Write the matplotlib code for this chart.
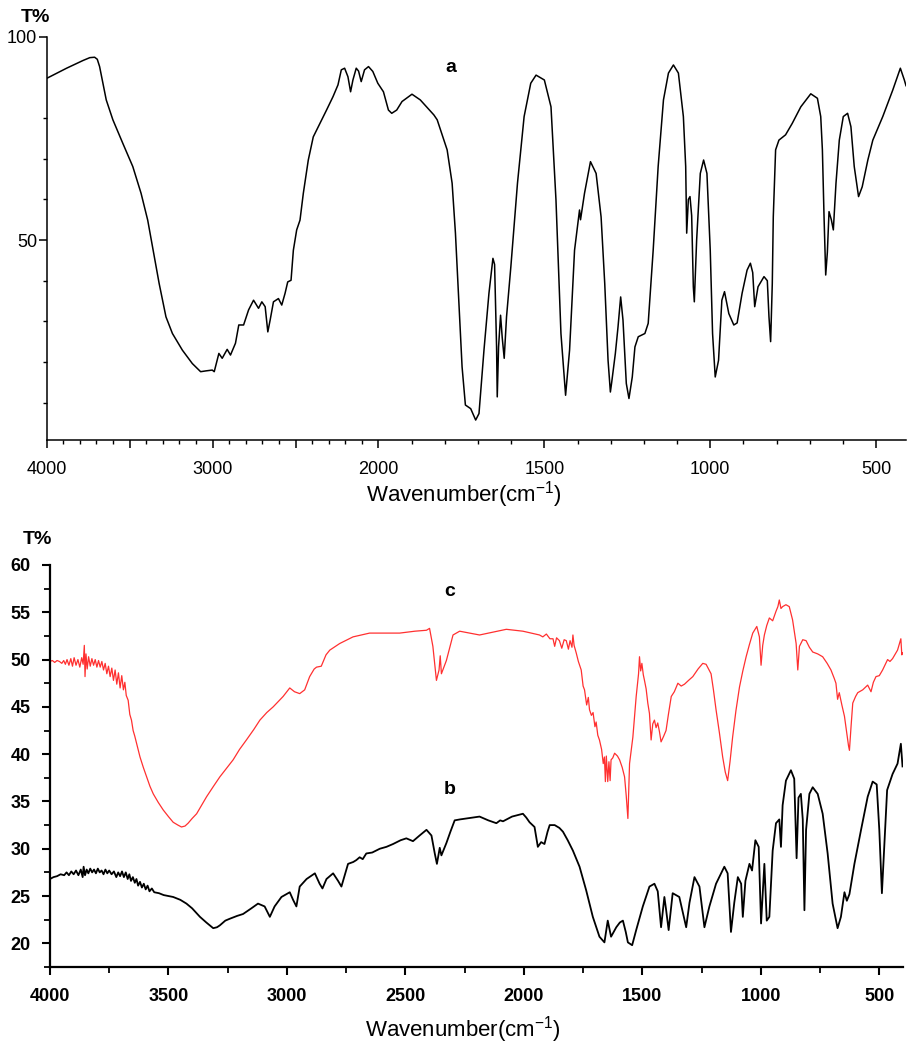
import numpy as np
import matplotlib
matplotlib.use("Agg")
import matplotlib.pyplot as plt
from matplotlib.ticker import FixedLocator

plt.rcParams['font.family'] = ['Liberation Sans', 'DejaVu Sans']

# spectrum a (top panel): wavenumber, T%
spec_a = np.array([
    (4000, 89.8), (3880, 92.3), (3781, 94.2), (3740, 94.9), (3711, 95.0), (3695, 94.5),
    (3681, 92.7), (3641, 84.5), (3601, 79.6), (3541, 73.8), (3481, 68.1), (3431, 61.5),
    (3391, 54.9), (3362, 48.4), (3322, 39.3), (3281, 31.1), (3242, 27.0), (3182, 22.9),
    (3122, 19.6), (3072, 17.6), (3040, 17.8), (3002, 18.0), (2990, 17.6), (2962, 22.1),
    (2942, 20.9), (2912, 23.1), (2892, 21.7), (2862, 24.6), (2842, 29.1), (2813, 29.1),
    (2783, 32.8), (2753, 35.2), (2723, 33.2), (2703, 34.8), (2683, 33.6), (2667, 27.4),
    (2653, 30.3), (2633, 34.8), (2603, 35.6), (2583, 34.0), (2563, 36.9), (2547, 39.7),
    (2527, 40.1), (2513, 47.5), (2493, 52.5), (2473, 54.9), (2453, 61.5), (2423, 69.7),
    (2393, 75.4), (2353, 78.7), (2313, 82.0), (2274, 85.3), (2244, 88.2), (2224, 91.9),
    (2204, 92.3), (2184, 90.2), (2168, 86.5), (2154, 89.4), (2134, 92.3), (2120, 91.6),
    (2104, 89.0), (2084, 91.9), (2060, 92.7), (2034, 91.5), (2004, 88.6), (1985, 86.5),
    (1970, 82.0), (1960, 81.2), (1945, 82.0), (1929, 84.1), (1899, 85.9), (1874, 84.5),
    (1833, 80.8), (1823, 79.6), (1793, 72.2), (1778, 64.0), (1768, 51.7), (1758, 35.2),
    (1748, 18.8), (1738, 9.4), (1722, 8.5), (1707, 5.7), (1697, 7.3), (1682, 22.9),
    (1667, 36.9), (1655, 45.5), (1650, 44.0), (1644, 23.7), (1642, 11.4), (1638, 23.7),
    (1632, 31.5), (1627, 26.0), (1621, 20.9), (1614, 31.1), (1601, 43.4), (1581, 64.0),
    (1561, 80.4), (1541, 88.6), (1525, 90.6), (1500, 89.4), (1480, 82.8), (1465, 59.9),
    (1450, 27.0), (1436, 11.8), (1424, 22.9), (1409, 47.5), (1394, 57.4), (1391, 55.0),
    (1379, 61.5), (1361, 69.3), (1344, 66.4), (1329, 55.7), (1318, 39.3), (1308, 20.4),
    (1301, 12.6), (1297, 15.0), (1286, 22.1), (1278, 28.6), (1270, 36.0), (1263, 30.3),
    (1253, 14.7), (1245, 11.0), (1235, 16.3), (1227, 23.7), (1217, 26.2), (1197, 27.0),
    (1187, 29.5), (1172, 47.5), (1157, 68.1), (1141, 84.5), (1126, 91.1), (1111, 93.1),
    (1096, 91.1), (1081, 80.4), (1074, 68.1), (1071, 51.7), (1066, 60.0), (1061, 60.7),
    (1056, 56.0), (1051, 38.5), (1048, 34.8), (1041, 50.0), (1030, 66.4), (1020, 69.7),
    (1010, 66.4), (1000, 47.5), (993, 27.0), (985, 16.3), (975, 20.4), (965, 35.2),
    (957, 37.3), (944, 31.9), (929, 29.1), (919, 29.6), (904, 36.9), (889, 42.6),
    (879, 44.3), (872, 42.0), (866, 33.6), (856, 38.5), (838, 41.0), (828, 40.0),
    (823, 31.1), (818, 25.0), (813, 39.3), (810, 55.7), (803, 72.2), (793, 74.6),
    (773, 75.9), (753, 78.7), (727, 82.8), (697, 86.0), (677, 84.9), (667, 80.4),
    (662, 72.2), (657, 55.7), (652, 41.4), (647, 47.0), (642, 57.0), (635, 55.0),
    (629, 52.5), (621, 64.0), (611, 74.6), (599, 80.4), (586, 81.2), (576, 77.9),
    (566, 68.1), (553, 60.7), (542, 63.1), (525, 69.7), (510, 74.6), (480, 80.4),
    (450, 86.9), (427, 92.3), (415, 89.4), (410, 88.0),
])

# spectrum c (bottom panel, red)
spec_c = np.array([
    (4000, 49.8), (3990, 49.9), (3980, 49.7), (3970, 49.9), (3960, 49.8), (3950, 49.6),
    (3942, 49.9), (3935, 49.5), (3928, 50.0), (3920, 49.4), (3912, 50.1), (3905, 49.3),
    (3898, 50.2), (3890, 49.4), (3882, 50.0), (3874, 49.2), (3866, 50.2), (3860, 49.5),
    (3855, 51.5), (3852, 48.2), (3848, 50.6), (3843, 49.0), (3837, 50.3), (3830, 49.3),
    (3823, 50.1), (3816, 49.4), (3809, 50.0), (3802, 49.2), (3795, 49.9), (3788, 49.2),
    (3781, 49.8), (3774, 48.9), (3767, 49.6), (3760, 48.5), (3753, 49.3), (3746, 48.2),
    (3739, 49.1), (3732, 47.8), (3725, 48.9), (3718, 47.4), (3711, 48.6), (3704, 47.0),
    (3697, 48.3), (3690, 46.8), (3684, 47.6), (3678, 46.2), (3670, 45.7), (3663, 44.2),
    (3656, 43.6), (3649, 42.5), (3642, 41.9), (3635, 41.2), (3620, 39.7), (3606, 38.6),
    (3592, 37.6), (3578, 36.6), (3564, 35.8), (3543, 34.9), (3522, 34.1), (3500, 33.4),
    (3480, 32.8), (3460, 32.5), (3445, 32.3), (3430, 32.4), (3417, 32.7), (3400, 33.2),
    (3381, 33.7), (3360, 34.6), (3339, 35.5), (3310, 36.6), (3283, 37.6), (3255, 38.5),
    (3227, 39.4), (3200, 40.5), (3171, 41.5), (3140, 42.6), (3114, 43.6), (3085, 44.4),
    (3058, 45.0), (3035, 45.6), (3016, 46.1), (2988, 47.0), (2968, 46.6), (2946, 46.4),
    (2925, 46.8), (2904, 48.2), (2885, 49.0), (2875, 49.2), (2855, 49.3), (2835, 50.5),
    (2819, 51.0), (2777, 51.7), (2721, 52.4), (2651, 52.8), (2580, 52.8), (2524, 52.8),
    (2460, 53.0), (2411, 53.1), (2398, 53.3), (2384, 51.4), (2369, 47.8), (2358, 48.9),
    (2353, 50.4), (2348, 48.5), (2327, 49.9), (2299, 52.6), (2271, 53.0), (2187, 52.6),
    (2130, 52.9), (2074, 53.2), (2004, 53.0), (1970, 52.8), (1934, 52.6), (1920, 52.4),
    (1905, 52.7), (1890, 52.2), (1877, 52.2), (1870, 51.4), (1862, 52.3), (1850, 52.0),
    (1840, 51.2), (1830, 52.1), (1821, 52.0), (1812, 51.1), (1805, 52.0), (1797, 51.3),
    (1793, 52.6), (1788, 51.5), (1779, 50.7), (1770, 49.8), (1758, 48.9), (1750, 47.2),
    (1744, 46.8), (1735, 45.2), (1728, 46.0), (1723, 44.7), (1715, 44.1), (1708, 44.4),
    (1700, 42.9), (1695, 43.4), (1688, 42.0), (1681, 41.5), (1672, 40.5), (1665, 39.0),
    (1660, 39.7), (1656, 37.1), (1652, 39.8), (1646, 37.1), (1641, 39.2), (1636, 37.2),
    (1632, 39.4), (1625, 39.6), (1617, 40.1), (1605, 39.8), (1596, 39.4), (1585, 38.6),
    (1575, 37.6), (1568, 35.6), (1561, 33.2), (1557, 36.5), (1554, 39.0), (1540, 41.8),
    (1526, 46.1), (1516, 48.5), (1512, 50.3), (1507, 48.8), (1502, 49.6), (1496, 48.4),
    (1491, 47.8), (1484, 46.9), (1477, 45.4), (1470, 44.3), (1463, 41.5), (1456, 43.2),
    (1449, 43.6), (1442, 42.8), (1435, 43.3), (1428, 42.4), (1421, 41.3), (1410, 41.9),
    (1400, 42.5), (1390, 44.2), (1378, 46.1), (1365, 46.6), (1350, 47.5), (1336, 47.2),
    (1322, 47.4), (1305, 47.8), (1287, 48.2), (1265, 49.0), (1245, 49.6), (1231, 49.5),
    (1210, 48.5), (1200, 46.8), (1189, 44.7), (1175, 42.3), (1161, 39.7), (1150, 38.1),
    (1140, 37.2), (1130, 39.2), (1119, 41.8), (1105, 44.6), (1090, 47.1), (1076, 48.8),
    (1062, 50.3), (1048, 51.6), (1034, 52.8), (1017, 53.5), (1006, 52.4), (999, 49.4),
    (992, 51.5), (985, 52.6), (975, 53.6), (964, 54.4), (950, 54.1), (936, 55.1),
    (928, 55.6), (922, 56.3), (915, 55.4), (908, 55.6), (894, 55.8), (880, 55.6),
    (866, 54.2), (851, 51.7), (844, 48.9), (837, 51.4), (823, 52.1), (809, 52.0),
    (795, 51.3), (781, 50.8), (760, 50.6), (739, 50.3), (720, 49.6), (704, 48.9),
    (690, 48.0), (683, 47.5), (676, 45.8), (669, 46.5), (658, 45.2), (647, 44.0),
    (637, 42.2), (630, 40.9), (626, 40.4), (619, 43.0), (612, 45.4), (600, 46.1),
    (591, 46.5), (570, 46.8), (549, 47.3), (535, 46.6), (525, 47.6), (514, 48.2),
    (500, 48.3), (486, 48.9), (465, 50.0), (455, 49.8), (444, 50.1), (423, 51.0),
    (409, 52.2), (405, 50.5), (402, 50.7),
])

# spectrum b (bottom panel, black)
spec_b = np.array([
    (4000, 26.8), (3985, 27.0), (3970, 27.1), (3955, 27.3), (3940, 27.2), (3930, 27.5),
    (3920, 27.2), (3910, 27.6), (3900, 27.3), (3890, 27.7), (3880, 27.2), (3870, 27.8),
    (3862, 27.0), (3858, 28.1), (3852, 27.2), (3845, 27.8), (3838, 27.4), (3830, 27.9),
    (3822, 27.5), (3814, 27.8), (3806, 27.4), (3798, 27.9), (3790, 27.5), (3782, 27.7),
    (3774, 27.3), (3766, 27.8), (3758, 27.4), (3750, 27.7), (3740, 27.3), (3730, 27.6),
    (3720, 27.0), (3712, 27.5), (3704, 27.1), (3696, 27.6), (3688, 27.0), (3680, 27.5),
    (3672, 26.8), (3665, 27.3), (3658, 26.6), (3650, 27.0), (3642, 26.4), (3635, 26.8),
    (3628, 26.1), (3620, 26.5), (3612, 25.9), (3604, 26.3), (3596, 25.7), (3588, 26.1),
    (3580, 25.5), (3570, 25.8), (3560, 25.4), (3540, 25.3), (3520, 25.1), (3500, 25.0),
    (3480, 24.9), (3450, 24.6), (3424, 24.2), (3400, 23.7), (3367, 22.8), (3340, 22.2),
    (3311, 21.6), (3295, 21.7), (3283, 21.9), (3260, 22.4), (3241, 22.6), (3210, 22.9),
    (3185, 23.1), (3150, 23.7), (3122, 24.2), (3094, 23.9), (3072, 22.8), (3052, 23.9),
    (3023, 24.9), (2988, 25.4), (2974, 24.6), (2960, 23.9), (2946, 26.0), (2917, 26.8),
    (2882, 27.4), (2862, 26.3), (2850, 25.8), (2833, 26.8), (2805, 27.4), (2784, 26.6),
    (2770, 26.0), (2742, 28.4), (2720, 28.6), (2707, 28.8), (2693, 29.1), (2680, 28.9),
    (2665, 29.5), (2640, 29.6), (2608, 30.0), (2580, 30.2), (2552, 30.5), (2520, 30.9),
    (2496, 31.1), (2468, 30.8), (2440, 31.4), (2411, 32.0), (2390, 31.4), (2376, 29.5),
    (2367, 28.4), (2355, 30.1), (2348, 29.3), (2327, 30.6), (2310, 31.8), (2292, 33.0),
    (2270, 33.1), (2243, 33.2), (2215, 33.3), (2187, 33.4), (2150, 33.0), (2116, 32.7),
    (2100, 33.0), (2088, 32.9), (2050, 33.4), (2004, 33.7), (1990, 33.3), (1976, 32.8),
    (1955, 32.3), (1941, 30.2), (1927, 30.7), (1913, 30.5), (1900, 31.8), (1891, 32.5),
    (1870, 32.5), (1850, 32.2), (1835, 31.8), (1815, 30.9), (1793, 29.8), (1765, 28.1),
    (1737, 25.6), (1709, 22.8), (1681, 20.7), (1660, 20.1), (1646, 22.4), (1632, 20.7),
    (1610, 21.7), (1595, 22.2), (1582, 22.4), (1570, 21.2), (1561, 20.1), (1543, 19.8),
    (1526, 21.4), (1498, 23.9), (1470, 26.0), (1449, 26.3), (1435, 25.5), (1421, 21.7),
    (1407, 24.9), (1400, 23.6), (1389, 21.4), (1372, 25.3), (1344, 24.9), (1315, 21.7),
    (1301, 24.3), (1280, 27.0), (1259, 26.0), (1238, 21.7), (1217, 23.9), (1189, 26.3),
    (1154, 28.1), (1140, 27.4), (1126, 21.2), (1112, 24.3), (1097, 27.0), (1083, 26.3),
    (1076, 22.8), (1065, 26.6), (1048, 28.4), (1037, 27.7), (1023, 30.9), (1009, 30.2),
    (999, 22.1), (985, 28.4), (975, 22.4), (964, 22.8), (950, 29.8), (936, 32.7),
    (922, 33.1), (915, 30.2), (908, 34.6), (894, 37.2), (873, 38.3), (859, 37.4),
    (849, 29.0), (841, 35.4), (831, 35.8), (823, 33.1), (816, 23.5), (809, 32.0),
    (795, 35.8), (781, 36.5), (760, 35.8), (739, 33.7), (718, 29.5), (697, 24.2),
    (676, 21.6), (662, 22.8), (647, 25.4), (637, 24.5), (626, 25.2), (605, 28.4),
    (577, 32.0), (549, 35.5), (528, 37.1), (511, 36.8), (500, 32.0), (489, 25.3),
    (479, 30.2), (467, 36.2), (444, 37.9), (423, 39.0), (409, 41.1), (402, 38.7),
])

top_xticks = [4000, 3500, 3000, 2500, 2000, 1500, 1000, 500]
top_xlabels = ['4000', '', '3000', '', '2000', '1500', '1000', '500']
top_yticks = [50, 100]
top_yminor = [10, 20, 30, 40, 60, 70, 80]
bot_xticks = [4000, 3500, 3000, 2500, 2000, 1500, 1000, 500]
bot_yticks = [20, 25, 30, 35, 40, 45, 50, 55, 60]


# top axis has a scale change at 2000 cm-1 (region below 2000 stretched x2)
def fwd(x):
    x = np.asarray(x, dtype=float)
    return np.where(x > 2000, x + 2000, 2 * x)


def inv(y):
    y = np.asarray(y, dtype=float)
    return np.where(y > 4000, y - 2000, y / 2)


fig = plt.figure(figsize=(9.1, 10.49), dpi=100)

# ---- top panel ----
ax1 = fig.add_axes([0.0513, 0.5806, 0.9443, 0.3842])
ax1.plot(spec_a[:, 0], spec_a[:, 1], color='black', lw=1.1)
ax1.set_xscale('function', functions=(fwd, inv))
ax1.set_xlim(4000, 410)
ax1.set_ylim(0.8, 100)
ax1.xaxis.set_major_locator(FixedLocator(top_xticks))
ax1.set_xticklabels(top_xlabels)
ax1.xaxis.set_minor_locator(FixedLocator(np.arange(4000, 400, -100)))
ax1.yaxis.set_major_locator(FixedLocator(top_yticks))
ax1.yaxis.set_minor_locator(FixedLocator(top_yminor))
for s in ['top', 'right']:
    ax1.spines[s].set_visible(False)
for s in ['left', 'bottom']:
    ax1.spines[s].set_linewidth(1.1)
ax1.tick_params(axis='x', which='major', direction='out', length=6, width=1.1, pad=9, labelsize=13)
ax1.tick_params(axis='x', which='minor', direction='out', length=3, width=1.0)
ax1.tick_params(axis='y', which='major', direction='out', length=6, width=1.1, pad=1, labelsize=13)
ax1.tick_params(axis='y', which='minor', direction='out', length=3, width=1.0)
fig.text(35 / 910, 1 - 17 / 1049, 'T%', fontsize=14, fontweight='bold', ha='center', va='center')
fig.text(451 / 910, 1 - 68 / 1049, 'a', fontsize=14, fontweight='bold', ha='center', va='center')
fig.text(464 / 910, 1 - 495 / 1049, 'Wavenumber(cm$^{\\mathregular{-1}}$)', fontsize=16,
         ha='center', va='center')

# ---- bottom panel ----
ax2 = fig.add_axes([0.0549, 0.0782, 0.9374, 0.3832])
ax2.plot(spec_c[:, 0], spec_c[:, 1], color='#ff3030', lw=0.9)
ax2.plot(spec_b[:, 0], spec_b[:, 1], color='black', lw=1.3)
ax2.set_xlim(4000, 400)
ax2.set_ylim(17.5, 60)
ax2.xaxis.set_major_locator(FixedLocator(bot_xticks))
ax2.xaxis.set_minor_locator(FixedLocator(np.arange(3750, 400, -500)))
ax2.yaxis.set_major_locator(FixedLocator(bot_yticks))
ax2.yaxis.set_minor_locator(FixedLocator(np.arange(17.5, 60, 5)))
for s in ['top', 'right']:
    ax2.spines[s].set_visible(False)
for s in ['left', 'bottom']:
    ax2.spines[s].set_linewidth(1.6)
ax2.tick_params(axis='both', which='major', direction='out', length=6, width=1.5, labelsize=13)
ax2.tick_params(axis='both', which='minor', direction='out', length=4, width=1.3)
ax2.tick_params(axis='x', which='major', pad=9)
ax2.tick_params(axis='y', which='major', pad=8)
for lab in ax2.get_xticklabels() + ax2.get_yticklabels():
    lab.set_fontweight('bold')
fig.text(37 / 910, 1 - 539 / 1049, 'T%', fontsize=14, fontweight='bold', ha='center', va='center')
fig.text(450 / 910, 1 - 592 / 1049, 'c', fontsize=14, fontweight='bold', ha='center', va='center')
fig.text(450 / 910, 1 - 790 / 1049, 'b', fontsize=14, fontweight='bold', ha='center', va='center')
fig.text(463 / 910, 1 - 1030 / 1049, 'Wavenumber(cm$^{\\mathregular{-1}}$)', fontsize=16,
         ha='center', va='center')

fig.savefig('out.png', dpi=100)
